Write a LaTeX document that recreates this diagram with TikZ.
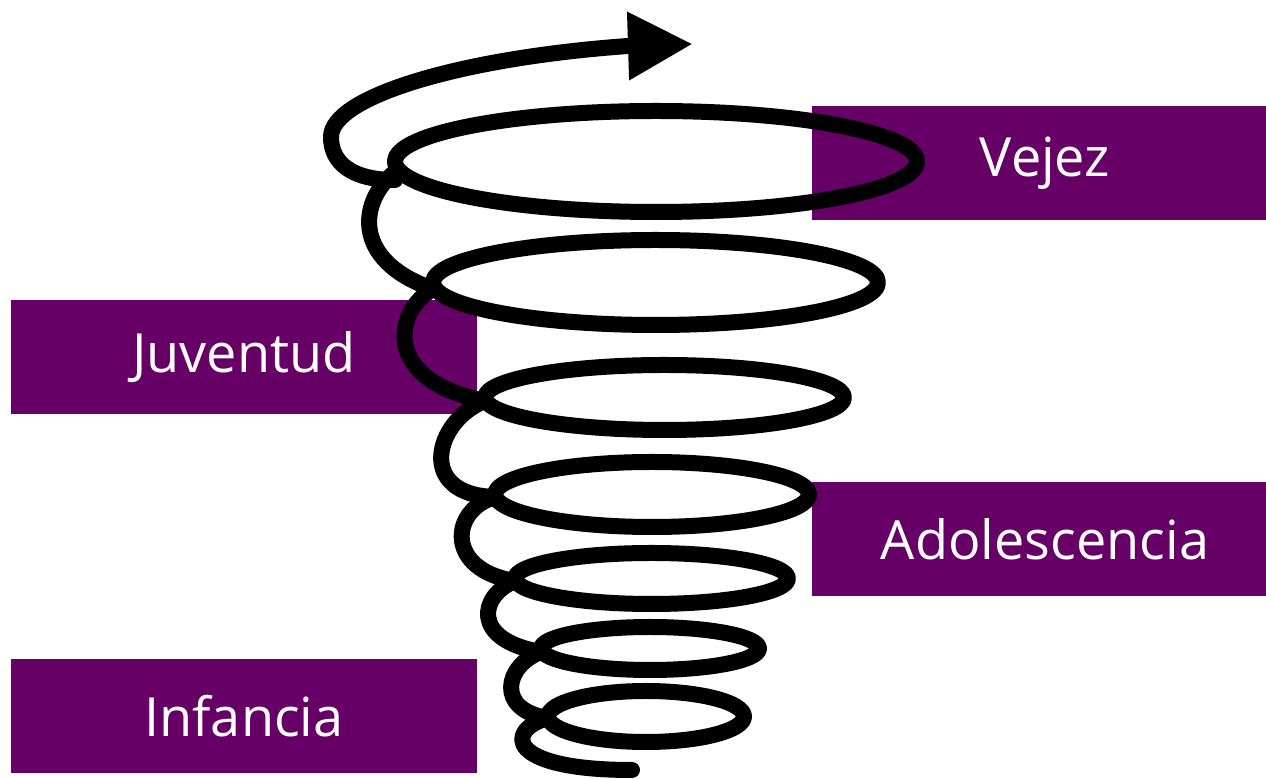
\documentclass[tikz,border=0pt]{standalone}
\usepackage{fontspec}
\setmainfont{Open Sans}
\usepackage{tikz}
\usetikzlibrary{arrows.meta}
\definecolor{plum}{HTML}{660066}

\begin{document}
\begin{tikzpicture}[x=0.5pt, y=-0.5pt,
  stage/.style={fill=plum, text=white, inner sep=0pt, minimum height=57pt,
    font=\fontsize{27}{32}\selectfont},
  coil/.style={line width=8pt, line cap=round, line join=round}]

  \useasboundingbox (0,0) rectangle (1266,779);

  % Stages of life
  \node[stage, minimum width=227pt] (vejez) at (1039,163.5) {\hspace*{6pt}Vejez};
  \node[stage, minimum width=233pt] (juventud) at (244,357) {Juventud};
  \node[stage, minimum width=227pt] (adolescencia) at (1039,539.5) {\hspace*{6pt}Adolescencia};
  \node[stage, minimum width=233pt] (infancia) at (244,716) {Infancia};

  % Turns of the spiral
  \foreach \cx/\cy/\rx/\ry in {656/161.5/261/50.5, 655.5/282.5/222.5/42.5,
      664.5/397.5/179.5/32.5, 652/494.5/157/32.5, 651.5/578.5/136.5/25.5,
      650/648.5/109/21.5, 646/716.5/98/25.5} {
    \draw[coil] (\cx,\cy) ellipse [x radius=\rx, y radius=\ry];
  }

  % Left ends where the turns meet
  \coordinate (L1) at (395,172);
  \coordinate (L2) at (433,289);
  \coordinate (L3) at (485,401);
  \coordinate (L4) at (495,497);
  \coordinate (L5) at (515,581);
  \coordinate (L6) at (541,652);
  \coordinate (L7) at (548,718);
  \coordinate (tail) at (632,770);
  \coordinate (tip) at (693,44);

  % Links between the turns
  \draw[coil] (L1) .. controls (360,200) and (350,260) .. (L2);
  \draw[coil] (L2) .. controls (395,310) and (380,380) .. (L3);
  \draw[coil] (L3) .. controls (435,420) and (415,495) .. (L4);
  \draw[coil] (L4) .. controls (450,510) and (445,570) .. (L5);
  \draw[coil] (L5) .. controls (480,595) and (470,640) .. (L6);
  \draw[coil] (L6) .. controls (505,665) and (495,710) .. (L7);
  \draw[coil] (L7) .. controls (505,730) and (505,770) .. (tail);

  % Arrow on top
  \draw[coil, -{Triangle[length=32.5pt, width=32pt]}]
    (395,180) .. controls (352,180) and (331,163) .. (331,137)
    .. controls (331,97) and (460,58) .. (628,46) -- (tip);

\end{tikzpicture}
\end{document}
